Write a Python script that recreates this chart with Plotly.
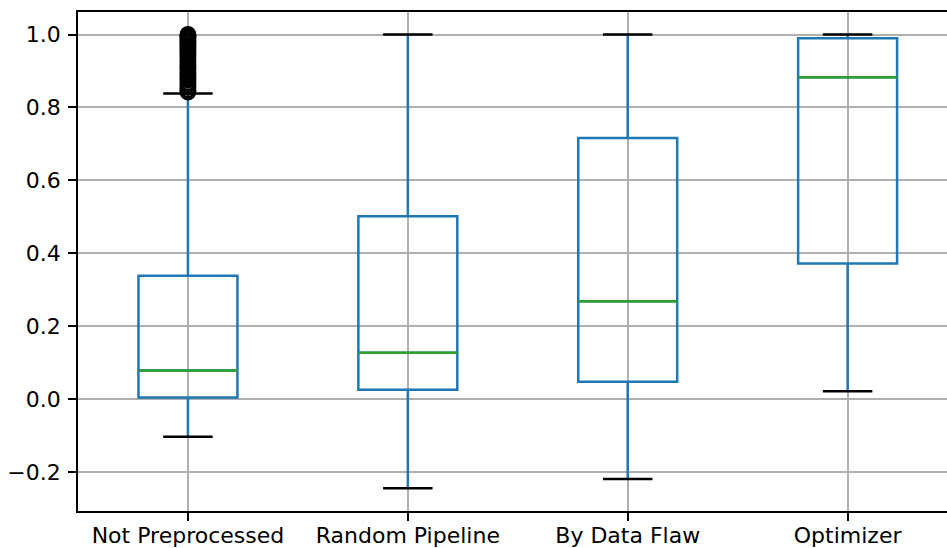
import plotly.graph_objects as go

categories = ["Not Preprocessed", "Random Pipeline", "By Data Flaw", "Optimizer"]
positions = [1, 2, 3, 4]
q1_vals = [0.004, 0.025, 0.047, 0.372]
median_vals = [0.078, 0.127, 0.268, 0.883]
q3_vals = [0.338, 0.501, 0.716, 0.990]
lower_whisker = [-0.104, -0.245, -0.220, 0.021]
upper_whisker = [0.838, 1.0, 1.0, 1.0]
outliers_not_preprocessed = [0.842, 0.848, 0.855, 0.862, 0.868, 0.875, 0.882, 0.889,
                             0.896, 0.903, 0.910, 0.917, 0.924, 0.931, 0.938, 0.945,
                             0.952, 0.959, 0.965, 0.971, 0.977, 0.983, 0.988, 0.993,
                             0.997, 1.0]
y_ticks = [-0.2, 0.0, 0.2, 0.4, 0.6, 0.8, 1.0]

BLUE = "#1f77b4"
GREEN = "#2ca02c"
LW = 2.5
BOX_W = 0.45
CAP_HALF = 0.1125
MED_HALF = 0.225

fig = go.Figure()

fig.add_trace(go.Box(
    x=positions, q1=q1_vals, median=median_vals, q3=q3_vals,
    lowerfence=lower_whisker, upperfence=upper_whisker,
    width=BOX_W, whiskerwidth=0, boxpoints=False,
    line=dict(color=BLUE, width=LW), fillcolor="rgba(0,0,0,0)",
    showlegend=False, hoverinfo="skip",
))

# medians
for p, m in zip(positions, median_vals):
    fig.add_trace(go.Scatter(x=[p - MED_HALF, p + MED_HALF], y=[m, m], mode="lines",
                             line=dict(color=GREEN, width=LW), showlegend=False,
                             hoverinfo="skip"))

# caps
for p, lo, hi in zip(positions, lower_whisker, upper_whisker):
    for v in (lo, hi):
        fig.add_trace(go.Scatter(x=[p - CAP_HALF, p + CAP_HALF], y=[v, v], mode="lines",
                                 line=dict(color="black", width=LW), showlegend=False,
                                 hoverinfo="skip"))

# outliers
fig.add_trace(go.Scatter(
    x=[positions[0]] * len(outliers_not_preprocessed), y=outliers_not_preprocessed,
    mode="markers",
    marker=dict(symbol="circle-open", size=14.5, color="black", line=dict(width=2.4, color="black")),
    showlegend=False, hoverinfo="skip", cliponaxis=False,
))

fig.update_layout(
    width=947, height=548,
    margin=dict(l=78, r=0, t=12, b=37),
    plot_bgcolor="white", paper_bgcolor="white",
    font=dict(family="DejaVu Sans", size=22, color="black"),
    showlegend=False,
)
fig.update_xaxes(
    range=[0.5, 4.452], tickvals=positions, ticktext=categories,
    showgrid=True, gridcolor="#b0b0b0", gridwidth=1.7,
    showline=True, linecolor="black", linewidth=1.7, mirror=True,
    ticks="outside", ticklen=8, tickwidth=1.7, tickcolor="black",
    ticklabelstandoff=-4, zeroline=False, automargin=False,
)
fig.update_yaxes(
    range=[-0.3075, 1.0618], tickvals=y_ticks, tickformat=".1f",
    showgrid=True, gridcolor="#b0b0b0", gridwidth=1.7,
    showline=True, linecolor="black", linewidth=1.7,
    ticks="outside", ticklen=8, tickwidth=1.7, tickcolor="black",
    ticklabelstandoff=3, zeroline=False, automargin=False,
)

fig.write_html("out.html")
